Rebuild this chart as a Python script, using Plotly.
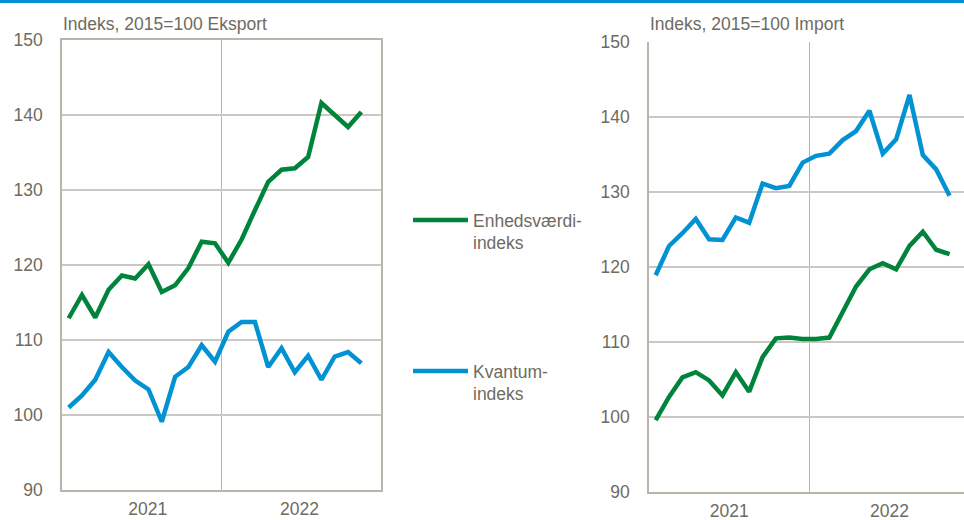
import plotly.graph_objects as go

# Months Jan 2021 .. Nov 2022 (23 observations), on a 24-slot category axis
months = list(range(23))
year_labels = ["2021", "2022"]

export_enhed = [112.9, 116.0, 113.0, 116.7, 118.6, 118.2, 120.1, 116.4, 117.3, 119.6,
                123.1, 122.9, 120.3, 123.4, 127.3, 131.1, 132.7, 132.9, 134.4, 141.6,
                140.0, 138.4, 140.4]
export_kvantum = [101.0, 102.6, 104.7, 108.4, 106.4, 104.6, 103.4, 99.1, 105.1, 106.4,
                  109.3, 107.1, 111.1, 112.4, 112.4, 106.4, 108.9, 105.7, 107.9, 104.7,
                  107.8, 108.4, 106.9]
import_enhed = [99.6, 102.7, 105.3, 106.0, 104.9, 102.9, 106.0, 103.4, 108.0, 110.5,
                110.6, 110.4, 110.4, 110.6, 114.0, 117.4, 119.7, 120.5, 119.7, 122.8,
                124.7, 122.3, 121.7]
import_kvantum = [118.9, 122.8, 124.5, 126.4, 123.7, 123.6, 126.6, 125.9, 131.1, 130.5,
                  130.8, 133.9, 134.8, 135.1, 136.9, 138.1, 140.8, 135.1, 137.0, 142.9,
                  134.9, 133.0, 129.5]

GREEN = "#00843c"
BLUE = "#0092d2"
TXT = "#6e6b60"
GRID = "#cac8c0"
AXIS = "#b8b5ab"
FONT = "Liberation Sans, Arial, sans-serif"
FS = 17.5
LW = 4.5

fig = go.Figure()

fig.add_trace(go.Scatter(x=months, y=export_enhed, mode="lines", xaxis="x", yaxis="y",
                         line=dict(color=GREEN, width=LW), name="Enhedsværdi-<br>indeks",
                         legend="legend"))
fig.add_trace(go.Scatter(x=months, y=export_kvantum, mode="lines", xaxis="x", yaxis="y",
                         line=dict(color=BLUE, width=LW), name="Kvantum-<br>indeks",
                         legend="legend2"))
fig.add_trace(go.Scatter(x=months, y=import_enhed, mode="lines", xaxis="x2", yaxis="y2",
                         line=dict(color=GREEN, width=LW), showlegend=False))
fig.add_trace(go.Scatter(x=months, y=import_kvantum, mode="lines", xaxis="x2", yaxis="y2",
                         line=dict(color=BLUE, width=LW), showlegend=False))

W, H = 964, 520
mt, mb = 40, 27
ph = H - mt - mb


def py(px):
    """paper y for a pixel row"""
    return (H - mb - px) / ph


xcommon = dict(showgrid=False, zeroline=False, showline=True, linecolor=AXIS, linewidth=1.5,
               ticks="", tickfont=dict(family=FONT, size=FS, color=TXT),
               ticktext=year_labels, ticklabelstandoff=2, automargin=False,
               minor=dict(tickvals=[11.5], showgrid=True, gridcolor=AXIS, gridwidth=1.2, ticks=""))
ycommon = dict(range=[90, 150], dtick=10, tick0=90, showgrid=True, gridcolor=GRID, gridwidth=1.5,
               zeroline=False, showline=True, linecolor=AXIS, linewidth=1.5, ticks="",
               automargin=False,
               tickfont=dict(family=FONT, size=FS, color=TXT), ticklabelstandoff=14)

legcommon = dict(xanchor="left", yanchor="top", font=dict(family=FONT, size=FS, color=TXT),
                 itemwidth=55, valign="top", bgcolor="rgba(0,0,0,0)", borderwidth=0,
                 itemclick=False, itemdoubleclick=False)

fig.update_layout(
    width=W, height=H,
    margin=dict(l=0, r=0, t=mt, b=mb, autoexpand=False),
    paper_bgcolor="white", plot_bgcolor="white",
    xaxis=dict(domain=[62 / W, 381.3 / W], range=[-0.5, 23.5], anchor="y",
               tickvals=[5.95, 17.35], mirror=True, **xcommon),
    yaxis=dict(domain=[py(490), py(40)], anchor="x", mirror=True, **ycommon),
    xaxis2=dict(domain=[649 / W, 1.0], range=[-0.5, 23.08], anchor="y2",
                tickvals=[5.5, 17.5], **xcommon),
    yaxis2=dict(domain=[py(492.3), py(41.7)], anchor="x2", **ycommon),
    legend=dict(x=408 / W, y=py(202), **legcommon),
    legend2=dict(x=408 / W, y=py(353), **legcommon),
    annotations=[
        dict(text="Indeks, 2015=100 Eksport", xref="paper", yref="paper", x=62 / W,
             y=py(24), xanchor="left", yanchor="middle", showarrow=False,
             xshift=-1, font=dict(family=FONT, size=FS, color=TXT)),
        dict(text="Indeks, 2015=100 Import", xref="paper", yref="paper", x=649 / W,
             y=py(24), xanchor="left", yanchor="middle", showarrow=False,
             xshift=-1, font=dict(family=FONT, size=FS, color=TXT)),
    ],
    shapes=[
        dict(type="rect", xref="paper", yref="paper", x0=0, x1=1,
             y0=py(3), y1=py(0), fillcolor="#0091d2", line=dict(width=0)),
    ],
    showlegend=True,
    hovermode=False,
)

fig.write_html("out.html",
               config={"displayModeBar": False},
               post_script="document.body.style.margin='0';document.body.style.overflow='hidden';")
